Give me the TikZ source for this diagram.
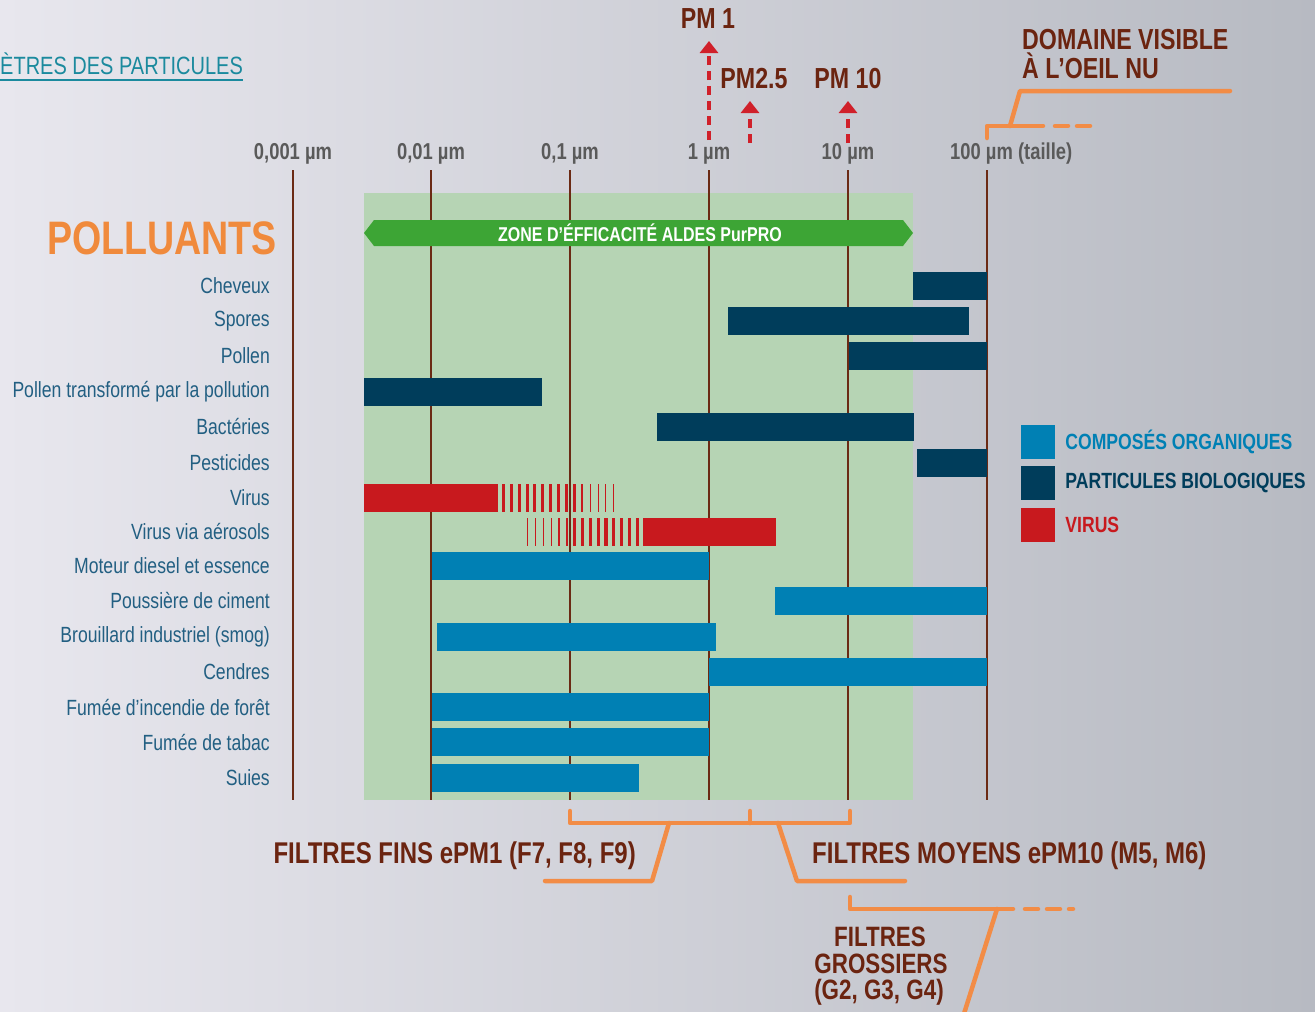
\documentclass[tikz,border=0pt]{standalone}
\usepackage{fontspec}
\setmainfont{Liberation Sans}[FakeStretch=0.8]
\usetikzlibrary{arrows.meta,positioning}

\definecolor{fondclair}{HTML}{E8E7EE}
\definecolor{fondfonce}{HTML}{B7BAC2}
\definecolor{vertzone}{HTML}{B6D4B4}
\definecolor{vertbande}{HTML}{3DA535}
\definecolor{bleuorg}{HTML}{0080B4}
\definecolor{bleubio}{HTML}{003D5B}
\definecolor{rougevir}{HTML}{C8191E}
\definecolor{brun}{HTML}{6B2410}
\definecolor{trait}{HTML}{F28C46}
\definecolor{polluant}{HTML}{F08A3C}
\definecolor{gristxt}{HTML}{5A5A5A}
\definecolor{bleutxt}{HTML}{225F82}
\definecolor{axe}{HTML}{6B2A14}
\definecolor{titre}{HTML}{1B8A9E}
\definecolor{pmrouge}{HTML}{D0202A}

\tikzset{
  graduation/.style={font=\fontsize{23}{26}\selectfont\bfseries, text=gristxt, inner sep=0pt},
  polluantnom/.style={font=\fontsize{22}{26}\selectfont, text=bleutxt, anchor=east, inner sep=0pt},
  titrebrun/.style={font=\fontsize{30}{28}\selectfont\bfseries, text=brun, inner sep=0pt},
  pmfleche/.style={pmrouge, line width=3.3pt, dash pattern=on 9pt off 6pt, -{Triangle[width=18pt,length=12pt]}},
  crochet/.style={trait, line width=4.5pt, line cap=round, line join=round},
  carre/.style={minimum size=34pt, inner sep=0pt},
  legende/.style={font=\fontsize{22}{26}\selectfont\bfseries, inner sep=0pt, anchor=west}
}

\begin{document}
\begin{tikzpicture}[x=1pt,y=-1pt]
  \useasboundingbox (0,0) rectangle (1315,1012);
  \shade[left color=fondclair, right color=fondfonce] (0,0) rectangle (1315,1012); % fond

  % titre coupe
  \node[font=\fontsize{25}{28}\selectfont, text=titre, anchor=west, inner sep=0pt] (titre) at (0,64) {ÈTRES DES PARTICULES};
  \draw[titre, line width=1.5pt] (0,80) -- (243,80);

  % zone verte
  \fill[vertzone] (364,193) rectangle (913,800);

  % axes
  \foreach \x/\t [count=\i] in {293/{0,001 µm}, 431/{0,01 µm}, 570/{0,1 µm}, 709/{1 µm}, 848/{10 µm}}{
    \node[graduation] (grad\i) at (\x,154) {\t};
    \draw[axe, line width=2pt] (\x,170) -- (\x,800);
  }
  \node[graduation, anchor=west] (grad6) at (950,154) {100 µm (taille)};
  \draw[axe, line width=2pt] (987,170) -- (987,800);

  % bande verte
  \fill[vertbande] (364,233) -- (374,220) -- (903,220) -- (913,233) -- (903,246) -- (374,246) -- cycle;
  \node[font=\fontsize{20}{24}\selectfont\bfseries, text=white, inner sep=0pt] (zone) at (640,233) {ZONE D’ÉFFICACITÉ ALDES PurPRO};

  % PM
  \node[titrebrun, font=\fontsize{29}{28}\selectfont\bfseries] (pm1) at (708,19) {PM 1};
  \node[titrebrun, font=\fontsize{29}{28}\selectfont\bfseries] (pm25) at (754,79) {PM2.5};
  \node[titrebrun, font=\fontsize{29}{28}\selectfont\bfseries] (pm10) at (848,79) {PM 10};
  \coordinate (pm1base) at (709,140);
  \coordinate (pm25base) at (750,143);
  \coordinate (pm10base) at (848,143);
  \draw[pmfleche] (pm1base) -- (709,41);
  \draw[pmfleche] (pm25base) -- (750,101);
  \draw[pmfleche] (pm10base) -- (848,101);

  % domaine visible
  \node[titrebrun, font=\fontsize{29}{28}\selectfont\bfseries, anchor=north west, align=left] (visible) at (1022,29) {DOMAINE VISIBLE\\[1pt]À L’OEIL NU};
  \draw[crochet] (987,138) -- (987,126) -- (1043,126);
  \draw[crochet, dash pattern=on 13pt off 9pt] (1055,126) -- (1095,126);
  \draw[crochet] (1010,126) -- (1020,91) -- (1230,91);

  % polluants
  \node[font=\fontsize{47}{50}\selectfont\bfseries, text=polluant, anchor=east, inner sep=0pt] (polluants) at (277,238) {POLLUANTS};
  \foreach \nom/\y [count=\i] in {Cheveux/286, Spores/321, Pollen/356, Pollen transformé par la pollution/392,
      Bactéries/427, Pesticides/463, Virus/498, Virus via aérosols/532, Moteur diesel et essence/566,
      Poussière de ciment/601, Brouillard industriel (smog)/637, Cendres/672, Fumée d’incendie de forêt/707,
      Fumée de tabac/742, Suies/778}
    \node[polluantnom] (nom\i) at (270,\y) {\nom};

  % barres
  \foreach \y/\a/\b/\c in {286/913/987/bleubio, 321/728/969/bleubio, 356/849/987/bleubio, 392/364/542/bleubio,
      427/657/914/bleubio, 463/917/987/bleubio, 498/364/498/rougevir, 532/643/776/rougevir,
      566/432/709/bleuorg, 601/775/987/bleuorg, 637/437/716/bleuorg, 672/709/987/bleuorg,
      707/432/709/bleuorg, 742/432/709/bleuorg, 778/432/639/bleuorg}
    \fill[\c] (\a,\y-14) rectangle (\b,\y+14);

  % hachures virus
  \foreach \x/\w in {502/3.4, 510/3.4, 518/3.4, 525.5/3.4, 533/3.4, 541/3.4, 549/3.4, 557/3.4, 565/3.4,
      573/2.8, 581/2.1, 589.5/1.5, 597.5/1.3, 605/1.1, 612.5/1.1}
    \fill[rougevir] (\x,484) rectangle (\x+\w,512);
  \foreach \x/\w in {527.3/0.8, 535/1, 543/1, 550.7/1.3, 558.3/1.6, 566/2, 573.3/3, 580.7/3.2, 588.7/3.2,
      596.7/3.3, 604.3/3.4, 612/3.4, 620/3.4, 628/3.4, 635.7/3.4}
    \fill[rougevir] (\x,518) rectangle (\x+\w,546);

  % legende
  \node[carre, fill=bleuorg] (leg1) at (1038,442) {};
  \node[carre, fill=bleubio] (leg2) at (1038,483) {};
  \node[carre, fill=rougevir] (leg3) at (1038,525) {};
  \node[legende, text=bleuorg, right=10pt of leg1] (txt1) {COMPOSÉS ORGANIQUES};
  \node[legende, text=bleubio, right=10pt of leg2] (txt2) {PARTICULES BIOLOGIQUES};
  \node[legende, text=rougevir, right=10pt of leg3] (txt3) {VIRUS};

  % filtres
  \draw[crochet] (570,811) -- (570,823) -- (850,823) -- (850,811);
  \draw[crochet] (750,811) -- (750,823);
  \draw[crochet] (669,823) -- (652,881) -- (545,881);
  \draw[crochet] (778,823) -- (797,881) -- (905,881);
  \draw[crochet] (850,897) -- (850,909) -- (1013,909);
  \draw[crochet, dash pattern=on 13pt off 9pt] (1025,909) -- (1073,909);
  \draw[crochet] (997,909) -- (962,1020);
  \node[titrebrun, anchor=east] (fins) at (636,856) {FILTRES FINS ePM1 (F7, F8, F9)};
  \node[titrebrun, anchor=west] (moyens) at (812,856) {FILTRES MOYENS ePM10 (M5, M6)};
  \node[titrebrun, font=\fontsize{28}{28}\selectfont\bfseries] (grossiers1) at (880,937) {FILTRES};
  \node[titrebrun, font=\fontsize{28}{28}\selectfont\bfseries] (grossiers2) at (881,964) {GROSSIERS};
  \node[titrebrun, font=\fontsize{28}{28}\selectfont\bfseries] (grossiers3) at (879,992) {(G2, G3, G4)};
\end{tikzpicture}
\end{document}
